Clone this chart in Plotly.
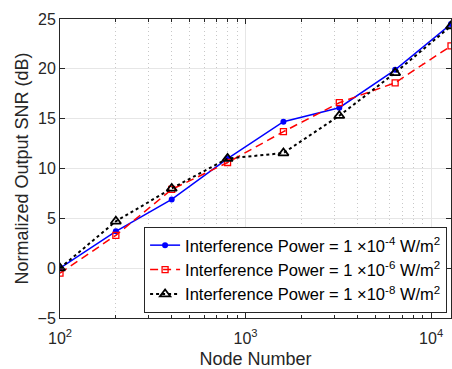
import plotly.graph_objects as go

nodes = [100, 200, 400, 800, 1600, 3200, 6400, 12800]
snr_1e4 = [0.0, 3.7, 6.9, 11.0, 14.7, 16.1, 19.9, 24.5]
snr_1e6 = [-0.5, 3.3, 7.9, 10.6, 13.7, 16.6, 18.6, 22.3]
snr_1e8 = [0.0, 4.7, 8.0, 11.0, 11.55, 15.3, 19.6, 24.3]
labels = [
    "Interference Power = 1 \u00d710<sup>-4</sup> W/m<sup>2</sup>",
    "Interference Power = 1 \u00d710<sup>-6</sup> W/m<sup>2</sup>",
    "Interference Power = 1 \u00d710<sup>-8</sup> W/m<sup>2</sup>",
]
xtick_vals = [100, 1000, 10000]
xtick_text = ["10<sup>2</sup>", "10<sup>3</sup>", "10<sup>4</sup>"]
ytick_vals = [-5, 0, 5, 10, 15, 20, 25]

minor_vals = [m * 10 ** e for e in (2, 3, 4) for m in range(2, 10)]

FONT = "Liberation Sans, Arial, sans-serif"

fig = go.Figure()
fig.add_trace(go.Scatter(x=nodes, y=snr_1e4, name=labels[0], mode="lines+markers",
                         line=dict(color="#0000ff", width=1.5),
                         marker=dict(symbol="circle", size=6, color="#0000ff")))
fig.add_trace(go.Scatter(x=nodes, y=snr_1e6, name=labels[1], mode="lines+markers",
                         line=dict(color="#ff0000", width=1.5, dash="8px,5px"),
                         marker=dict(symbol="square-open", size=6, color="#ff0000",
                                     line=dict(width=1.3))))
fig.add_trace(go.Scatter(x=nodes, y=snr_1e8, name=labels[2], mode="lines+markers",
                         line=dict(color="#000000", width=2, dash="dot"),
                         marker=dict(symbol="triangle-up-open", size=9, color="#000000",
                                     line=dict(width=1.8))))

axis_common = dict(
    showline=True, linecolor="#262626", linewidth=1, mirror="ticks",
    ticks="inside", ticklen=5, tickcolor="#262626",
    tickfont=dict(family=FONT, size=16, color="#262626"),
    zeroline=False, automargin=False,
    gridcolor="#e6e6e6", gridwidth=1,
)

fig.update_xaxes(
    type="log", range=[2, 4.1072], tickvals=xtick_vals, ticktext=xtick_text,
    ticklabelstandoff=6,
    title=dict(text="Node Number", font=dict(family=FONT, size=18, color="#262626"), standoff=10),
    minor=dict(tickvals=minor_vals, ticks="inside", ticklen=3, tickcolor="#262626",
               showgrid=True, gridcolor="#c8c8c8", griddash="1px,3px", gridwidth=1),
    **axis_common,
)
fig.update_yaxes(
    range=[-5, 25], tickvals=ytick_vals,
    title=dict(text="Normalized Output SNR (dB)",
               font=dict(family=FONT, size=18, color="#262626"), standoff=4),
    **axis_common,
)

fig.update_layout(
    width=452, height=369,
    margin=dict(l=60, r=1, t=19, b=51),
    plot_bgcolor="white", paper_bgcolor="white",
    font=dict(family=FONT, color="#000000"),
    legend=dict(x=0.99, xanchor="right", y=0.017, yanchor="bottom",
                bgcolor="white", bordercolor="#262626", borderwidth=1,
                font=dict(family=FONT, size=16.5, color="#000000"),
                itemwidth=30, tracegroupgap=0),
    showlegend=True,
)

fig.write_html("out.html")
